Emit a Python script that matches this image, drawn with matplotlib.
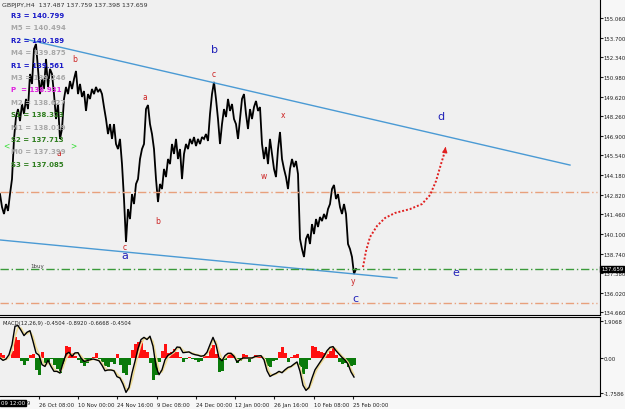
import numpy as np
import matplotlib
matplotlib.use("Agg")
import matplotlib.pyplot as plt

# ---- price path (GBPJPY H4), one value every 2 px of chart width
price_step = 2
price = [142.86, 141.96, 141.48, 142.17, 141.69, 142.86, 143.90, 146.68, 148.20, 148.75,
         147.92, 149.10, 148.41, 149.45, 148.75, 151.18, 150.49, 152.91, 153.26, 151.53,
         149.79, 150.83, 150.14, 152.22, 150.28, 151.53, 151.18, 149.79, 148.06, 149.10,
         146.68, 147.37, 149.45, 150.28, 149.79, 150.69, 150.14, 150.83, 151.39, 149.79,
         150.49, 149.59, 150.00, 148.62, 149.79, 149.45, 150.14, 149.79, 150.28, 149.93,
         150.14, 149.79, 148.89, 148.06, 147.02, 147.71, 146.68, 147.71, 146.33, 145.98,
         146.68, 144.94, 142.52, 139.54, 141.82, 141.13, 142.86, 142.17, 143.56, 143.90,
         145.29, 145.98, 146.33, 148.75, 149.03, 147.71, 147.02, 145.98, 143.90, 142.31,
         143.56, 143.21, 144.60, 144.04, 145.29, 144.94, 146.33, 145.64, 146.68, 145.29,
         145.98, 143.90, 145.64, 146.33, 145.98, 146.68, 146.33, 146.81, 146.19, 146.68,
         146.33, 146.81, 146.68, 147.02, 146.54, 148.41, 149.79, 150.63, 149.45, 148.06,
         146.33, 147.71, 148.75, 148.20, 149.45, 148.62, 149.10, 148.06, 147.71, 146.68,
         148.06, 149.45, 149.79, 148.41, 147.37, 148.75, 148.06, 148.89, 149.31, 148.62,
         148.89, 146.33, 145.29, 146.12, 144.94, 146.68, 145.64, 144.60, 144.04, 145.98,
         147.16, 145.29, 144.60, 144.04, 143.21, 144.60, 145.29, 144.73, 145.15, 144.25,
         139.75, 139.05, 138.50, 139.75, 140.09, 139.40, 140.78, 140.09, 141.13, 140.58,
         141.27, 140.99, 141.48, 141.13, 141.82, 142.17, 143.21, 143.49, 142.52, 142.86,
         141.96, 141.48, 142.17, 141.48, 139.40, 139.05, 138.50, 137.32, 137.67]

# ---- MACD panel, one value every 3 px
macd_step = 3
macd = [0.00, -0.12, -0.05, 0.17, 0.68, 1.62, 1.65, 1.41, 1.14, 1.31,
        1.39, 0.85, 0.26, 0.14, -0.34, -0.43, -0.12, -0.43, -0.68, -0.68,
        -0.77, -0.26, 0.20, 0.29, 0.09, 0.26, 0.27, 0.00, -0.17, -0.14,
        -0.09, -0.05, -0.09, -0.14, -0.37, -0.65, -0.61, -0.61, -0.65, -0.95,
        -1.02, -1.33, -1.75, -1.50, -0.77, -0.17, 0.48, 0.94, 1.05, 0.94,
        1.11, 0.60, -0.43, -0.85, -0.60, -0.09, 0.14, 0.22, 0.34, 0.56,
        0.54, 0.27, 0.29, 0.31, 0.22, 0.17, 0.14, 0.09, 0.12, 0.29,
        0.68, 1.05, 0.68, 0.00, -0.14, 0.12, 0.24, 0.24, 0.09, -0.20,
        -0.09, 0.00, 0.00, 0.00, 0.00, 0.07, 0.10, 0.12, -0.09, -0.65,
        -0.94, -0.85, -0.78, -0.68, -0.75, -0.60, -0.48, -0.43, -0.31, -0.20,
        -0.68, -1.39, -1.65, -1.50, -1.02, -0.60, -0.37, -0.14, 0.09, 0.37,
        0.54, 0.58, 0.37, 0.20, 0.03, -0.10, -0.31, -0.71, -0.97]
signal = [0.02, -0.05, -0.08, 0.02, 0.35, 1.10, 1.55, 1.52, 1.28, 1.22,
          1.35, 1.10, 0.55, 0.22, -0.10, -0.38, -0.28, -0.28, -0.55, -0.68,
          -0.72, -0.50, -0.05, 0.22, 0.20, 0.18, 0.26, 0.12, -0.08, -0.15,
          -0.12, -0.07, -0.07, -0.11, -0.25, -0.50, -0.62, -0.61, -0.63, -0.80,
          -0.98, -1.18, -1.55, -1.62, -1.15, -0.50, 0.15, 0.70, 0.98, 1.00,
          1.02, 0.85, 0.10, -0.62, -0.72, -0.35, 0.02, 0.18, 0.28, 0.45,
          0.55, 0.40, 0.30, 0.30, 0.26, 0.20, 0.16, 0.12, 0.10, 0.20,
          0.48, 0.88, 0.85, 0.35, -0.05, 0.00, 0.18, 0.24, 0.16, -0.08,
          -0.12, -0.04, 0.00, 0.00, 0.00, 0.04, 0.08, 0.11, 0.02, -0.40,
          -0.80, -0.88, -0.82, -0.73, -0.72, -0.66, -0.54, -0.46, -0.36, -0.26,
          -0.45, -1.05, -1.52, -1.58, -1.25, -0.80, -0.48, -0.25, -0.03, 0.24,
          0.45, 0.56, 0.46, 0.28, 0.10, -0.04, -0.22, -0.55, -0.85]
osma = [0.25, 0.15, 0.00, 0.00, 0.35, 1.05, 0.90, -0.14, -0.37, -0.17,
        0.17, 0.20, -0.60, -0.85, 0.30, -0.25, -0.20, -0.05, -0.35, -0.55,
        -0.75, -0.30, 0.60, 0.54, 0.25, 0.08, -0.10, -0.25, -0.42, -0.25,
        -0.05, 0.05, 0.25, -0.05, -0.20, -0.40, -0.45, -0.20, -0.30, 0.20,
        -0.35, -0.75, -0.85, -0.35, 0.40, 0.70, 0.80, 0.85, 0.40, 0.30,
        -0.25, -1.10, -0.85, -0.20, 0.35, 0.70, 0.25, 0.30, 0.45, 0.30,
        0.05, -0.20, -0.05, 0.05, -0.05, -0.10, -0.20, -0.15, 0.15, 0.10,
        0.50, 0.65, 0.20, -0.70, -0.65, -0.10, 0.25, 0.20, 0.10, -0.25,
        -0.15, 0.20, 0.15, -0.20, 0.05, 0.15, 0.15, 0.10, -0.05, -0.40,
        -0.45, -0.15, -0.10, 0.30, 0.55, 0.25, -0.20, 0.05, 0.15, 0.20,
        -0.45, -0.80, -0.55, -0.10, 0.60, 0.55, 0.35, 0.30, 0.25, 0.20,
        0.35, 0.50, 0.15, -0.20, -0.30, -0.25, -0.45, -0.40, -0.35]

# ---- drawn objects
upper_line = ([25, 570], [153.60, 144.87])
lower_line = ([0, 397], [139.68, 137.04])
orange_levels = [142.97, 135.28]
green_level = 137.67
arrow_x = [363, 366, 370, 377, 385, 395, 410, 422, 430, 436, 441, 445]
arrow_y = [137.80, 138.91, 139.88, 140.65, 141.20, 141.55, 141.82, 142.17, 142.79, 143.76, 144.94, 145.84]
arrow_tip = (446, 146.30)

blue_waves = [("b", 215, 152.91), ("d", 441, 148.27), ("e", 456, 137.46),
              ("c", 355, 135.66), ("a", 125, 138.64)]
red_waves = [("b", 75, 152.22), ("a", 59, 145.77), ("a", 145, 149.59), ("c", 125, 139.26),
             ("b", 158, 141.06), ("c", 214, 151.18), ("x", 283, 148.34), ("w", 264, 144.18),
             ("y", 353, 136.90)]

pivot_names = ["R3", "M5", "R2", "M4", "R1", "M3", "P ", "M2", "S1", "M1", "S2", "M0", "S3"]
pivot_values = ["140.799", "140.494", "140.189", "139.875", "139.561", "139.246", "138.931",
                "138.627", "138.323", "138.019", "137.713", "137.399", "137.085"]
pivot_colors = ["#1a1ac8", "#a8a8a8", "#1a1ac8", "#a8a8a8", "#1a1ac8", "#a8a8a8", "#e020e0",
                "#a8a8a8", "#2e7d1e", "#a8a8a8", "#2e7d1e", "#a8a8a8", "#2e7d1e"]

price_ticks = [134.66 + 1.36 * k for k in range(16)]
date_pos = [39, 78, 117, 157, 196, 235, 274, 314, 353]
date_labels = ["26 Oct 08:00", "10 Nov 00:00", "24 Nov 16:00", "9 Dec 08:00", "24 Dec 00:00",
               "12 Jan 00:00", "26 Jan 16:00", "10 Feb 08:00", "25 Feb 00:00"]

W, H = 625, 410
bg = "#f0f0f0"
fig = plt.figure(figsize=(6.25, 4.10), dpi=100, facecolor="#f7f7f7")
ax = fig.add_axes([0, 1 - 316 / H, 600 / W, 316 / H], facecolor=bg)
am = fig.add_axes([0, 1 - 397 / H, 600 / W, 79 / H], facecolor=bg)

# price
px = np.arange(len(price)) * price_step
ax.plot(px, price, color="black", lw=1.3, solid_joinstyle="miter")

ax.plot(*upper_line, color="#4a9ad4", lw=1)
ax.plot(*lower_line, color="#4a9ad4", lw=1)
for lv in orange_levels:
    ax.axhline(lv, xmin=0, xmax=597 / 600, color="#e8a07c", lw=1, ls=(0, (6, 2, 1, 2)))
ax.axhline(green_level, xmin=0, xmax=597 / 600, color="#3a9a3a", lw=1, ls=(0, (6, 2, 1, 2)))
ax.text(30, green_level + 0.05, "1buy", fontsize=4, color="#404040", va="bottom")

ax.plot(arrow_x, arrow_y, color="#e02020", lw=1.4, ls=(0, (1, 1)))
ax.annotate("", xy=arrow_tip, xytext=(arrow_x[-1], arrow_y[-1]),
            arrowprops=dict(arrowstyle="-|>", color="#e02020", lw=1, mutation_scale=7))

for t, x, y in blue_waves:
    ax.text(x, y, t, color="#2222b8", fontsize=8, ha="center", va="center")
for t, x, y in red_waves:
    ax.text(x, y, t, color="#cc2222", fontsize=5.5, ha="center", va="center")

ax.set_xlim(0, 600)
ax.set_ylim(134.48, 156.377)
ax.yaxis.tick_right()
ax.set_yticks(price_ticks)
ax.set_yticklabels([f"{v:.3f}" for v in price_ticks])
ax.tick_params(axis="y", labelsize=3.9, length=2, pad=0.8, colors="#202020")
ax.set_xticks([])
for s in ["left", "top"]:
    ax.spines[s].set_visible(False)
ax.spines["right"].set_color("black")
ax.spines["bottom"].set_color("black")

ax.text(601, green_level, "137.659", fontsize=3.9, color="white", va="center", ha="left",
        clip_on=False, bbox=dict(boxstyle="square,pad=0.12", fc="black", ec="black"))

# title + pivot table
fig.text(2 / W, 1 - 5 / H, "GBPJPY,H4  137.487 137.759 137.398 137.659", fontsize=4.5,
         color="#303030", va="center")
for i, (n, v, c) in enumerate(zip(pivot_names, pivot_values, pivot_colors)):
    fig.text(11 / W, 1 - (16 + i * 12.4) / H, f"{n} = {v}", fontsize=5, color=c,
             fontweight="bold", va="center")
fig.text(3 / W, 1 - 146 / H, "<", fontsize=5.5, color="#33dd33", va="center")
fig.text(70 / W, 1 - 146 / H, ">", fontsize=5.5, color="#33dd33", va="center")

# MACD
mx = np.arange(len(macd)) * macd_step
hist_colors = ["#ff1010" if v >= 0 else "#0a7a0a" for v in osma]
am.bar(mx, osma, width=macd_step, color=hist_colors, linewidth=0, align="center")
am.plot(mx, signal, color="#eedc96", lw=1.2)
am.plot(mx, macd, color="black", lw=1.0)
am.set_xlim(0, 600)
am.set_ylim(-1.934, 2.087)
am.yaxis.tick_right()
am.set_yticks([1.9068, 0.0, -1.7586])
am.set_yticklabels(["1.9068", "0.00", "-1.7586"])
am.tick_params(axis="y", labelsize=3.9, length=2, pad=0.8, colors="#202020")
am.set_xticks(date_pos)
am.set_xticklabels(date_labels, ha="left")
am.tick_params(axis="x", labelsize=3.9, length=2, pad=2, colors="#202020")
am.spines["left"].set_visible(False)
am.text(3, 1.95, "MACD(12,26,9) -0.4504 -0.8920 -0.6668 -0.4504", fontsize=3.8,
        color="#202020", va="top")
fig.text(1 / W, 1 - 404 / H, "09 12:00", fontsize=3.9, color="white", va="center",
         bbox=dict(boxstyle="square,pad=0.1", fc="black", ec="black"))
fig.text(27 / W, 1 - 404 / H, "9", fontsize=3.9, color="#202020", va="center")

fig.savefig("out.png", dpi=100, facecolor=fig.get_facecolor())
